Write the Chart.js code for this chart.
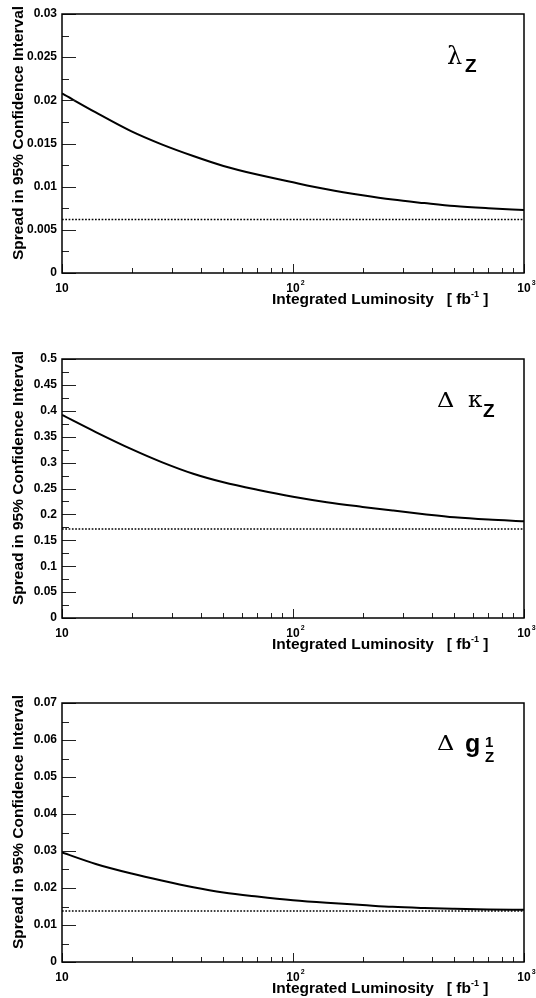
<!DOCTYPE html>
<html>
<head>
<meta charset="utf-8">
<script src="https://cdn.jsdelivr.net/npm/chart.js@4.4.1/dist/chart.umd.min.js"></script>
<style>
  body { margin: 0; background: #fff; }
  #wrap { position: relative; width: 536px; height: 998px; }
  canvas { position: absolute; left: 0; }
</style>
</head>
<body>
<div id="wrap">
  <canvas id="lambdaChart" width="536" height="309" style="top:0px"></canvas>
  <canvas id="kappaChart" width="536" height="309" style="top:345px"></canvas>
  <canvas id="g1Chart" width="536" height="309" style="top:689px"></canvas>
</div>
<script>
// Integrated luminosity points (fb^-1) where the spread was evaluated
var lumi = [10, 14, 20, 27, 37, 50, 70, 100, 140, 200, 270, 370, 500, 700, 1000];

// Spread of the 95% confidence interval for each coupling
var lambdaSpread = [0.0208, 0.0186, 0.0164, 0.0149, 0.01355, 0.0124, 0.0114, 0.0105, 0.0097, 0.0090, 0.0085, 0.0081, 0.00775, 0.0075, 0.0073];
var kappaSpread = [0.392, 0.359, 0.326, 0.301, 0.2785, 0.262, 0.2475, 0.234, 0.2235, 0.2145, 0.2075, 0.2005, 0.1945, 0.190, 0.1866];
var g1Spread = [0.0296, 0.0265, 0.0239, 0.0220, 0.0202, 0.0188, 0.0177, 0.0167, 0.0160, 0.0154, 0.0149, 0.0146, 0.0144, 0.01422, 0.0141];

// Asymptotic (infinite luminosity) limits, drawn dotted
var lambdaLimit = 0.0062;
var kappaLimit = 0.172;
var g1Limit = 0.0138;

// Axis ranges and tick steps
var lambdaAxis = [0, 0.03, 0.005];
var kappaAxis = [0, 0.5, 0.05];
var g1Axis = [0, 0.07, 0.01];

// x tick labels (decades) and minor ticks
var decadeTicks = [10, 100, 1000];
var decadeExp = ['', '2', '3'];
var minorTicks = [20, 30, 40, 50, 60, 70, 80, 90, 200, 300, 400, 500, 600, 700, 800, 900];

var latinBold = '"Liberation Sans", Arial, Helvetica, sans-serif';
var greekFont = '"DejaVu Serif", "Liberation Serif", serif';
var boldFont = 'bold 12px ' + latinBold;
var titleFont = 'bold 15.5px ' + latinBold;

function points(ys) {
  return lumi.map(function(x, i) { return { x: x, y: ys[i] }; });
}

// draws the frame, inward ticks, titles and the coupling symbol
var rootFrame = {
  id: 'rootFrame',
  afterDraw: function(chart, args, opts) {
    var ctx = chart.ctx;
    var a = chart.chartArea;
    var xs = chart.scales.x;
    var ys = chart.scales.y;
    ctx.save();

    // y ticks pointing into the plot
    ctx.strokeStyle = '#222';
    ctx.lineWidth = 1;
    var step = opts.step / 2;
    for (var i = 0; i * step <= opts.max + 1e-9; i++) {
      var py = Math.round(ys.getPixelForValue(i * step)) + 0.5;
      var len = (i % 2 === 0) ? 14 : 7;
      ctx.beginPath();
      ctx.moveTo(a.left, py);
      ctx.lineTo(a.left + len, py);
      ctx.stroke();
    }

    // x ticks pointing up
    minorTicks.forEach(function(v) {
      var px = Math.round(xs.getPixelForValue(v)) + 0.5;
      ctx.beginPath();
      ctx.moveTo(px, a.bottom);
      ctx.lineTo(px, a.bottom - 5);
      ctx.stroke();
    });
    decadeTicks.forEach(function(v) {
      var px = Math.round(xs.getPixelForValue(v)) + 0.5;
      ctx.beginPath();
      ctx.moveTo(px, a.bottom);
      ctx.lineTo(px, a.bottom - 9);
      ctx.stroke();
    });

    // frame
    ctx.strokeStyle = '#000';
    ctx.lineWidth = 1.5;
    ctx.strokeRect(a.left, a.top, a.right - a.left, a.bottom - a.top);

    // x labels: 10, 10^2, 10^3
    ctx.fillStyle = '#000';
    ctx.textBaseline = 'alphabetic';
    decadeTicks.forEach(function(v, i) {
      var px = xs.getPixelForValue(v);
      ctx.font = boldFont;
      ctx.textAlign = 'center';
      ctx.fillText('10', px, a.bottom + 19);
      if (decadeExp[i]) {
        var w = ctx.measureText('10').width;
        ctx.font = 'bold 7px ' + latinBold;
        ctx.textAlign = 'left';
        ctx.fillText(decadeExp[i], px + w / 2 + 1, a.bottom + 12);
      }
    });

    // x title
    ctx.font = titleFont;
    ctx.textAlign = 'left';
    var tx = 272;
    var ty = a.bottom + 31;
    var s1 = 'Integrated Luminosity   [ fb';
    ctx.fillText(s1, tx, ty);
    tx += ctx.measureText(s1).width;
    ctx.font = 'bold 9px ' + latinBold;
    ctx.fillText('-1', tx, ty - 7);
    tx += ctx.measureText('-1').width;
    ctx.font = titleFont;
    ctx.fillText(' ]', tx, ty);

    // y title
    ctx.save();
    ctx.translate(23, 260);
    ctx.rotate(-Math.PI / 2);
    ctx.font = titleFont;
    ctx.textAlign = 'left';
    ctx.fillText('Spread in 95% Confidence Interval', 0, 0);
    ctx.restore();

    // coupling symbol
    opts.symbol(ctx);
    ctx.restore();
  }
};

// wide upright delta like the Symbol font one
function drawDelta(ctx, x, y) {
  ctx.save();
  ctx.translate(x, y);
  ctx.scale(1.2, 1);
  ctx.font = '20px ' + greekFont;
  ctx.textAlign = 'left';
  ctx.fillText('\u0394', 0, 0);
  ctx.restore();
}

function drawLambda(ctx) {
  ctx.font = '24px ' + greekFont;
  ctx.textAlign = 'left';
  ctx.fillText('\u03bb', 447, 64);
  ctx.font = 'bold 19px ' + latinBold;
  ctx.fillText('Z', 465, 72);
}

function drawKappa(ctx) {
  drawDelta(ctx, 437, 62);
  ctx.font = '23px ' + greekFont;
  ctx.textAlign = 'left';
  ctx.fillText('\u03ba', 468, 62);
  ctx.font = 'bold 19px ' + latinBold;
  ctx.fillText('Z', 483, 72);
}

function drawG1(ctx) {
  drawDelta(ctx, 437, 61);
  ctx.font = 'bold 25px ' + latinBold;
  ctx.textAlign = 'left';
  ctx.fillText('g', 465, 63);
  ctx.font = 'bold 15px ' + latinBold;
  ctx.fillText('1', 485, 58);
  ctx.fillText('Z', 485, 73);
}

function makeChart(id, spread, limit, axis, symbol) {
  var ctx = document.getElementById(id).getContext('2d');
  return new Chart(ctx, {
    type: 'line',
    data: {
      datasets: [{
        data: points(spread),           // the spread versus luminosity
        borderColor: '#000',
        borderWidth: 2,
        pointRadius: 0,
        cubicInterpolationMode: 'monotone'
      }, {
        data: [{ x: lumi[0], y: limit }, { x: lumi[lumi.length - 1], y: limit }], // asymptote
        borderColor: '#000',
        borderWidth: 1.5,
        borderDash: [1.7, 1.6],
        pointRadius: 0
      }]
    },
    options: {
      responsive: false,
      animation: false,
      layout: { padding: { top: 14, right: 12, left: 0, bottom: 0 } },
      plugins: {
        legend: { display: false },
        tooltip: { enabled: false },
        rootFrame: { step: axis[2], max: axis[1], symbol: symbol }
      },
      scales: {
        x: {
          type: 'logarithmic',
          min: 10,
          max: 1000,
          grid: { display: false },
          border: { display: false },
          ticks: { display: false },
          afterFit: function(scale) { scale.height = 36; }
        },
        y: {
          min: axis[0],
          max: axis[1],
          grid: { display: false, drawTicks: false },
          border: { display: false },
          ticks: {
            stepSize: axis[2],
            padding: 5,
            color: '#000',
            font: { family: latinBold, weight: 'bold', size: 12 },
            callback: function(v) { return String(parseFloat(v.toFixed(4))); }
          },
          afterFit: function(scale) { scale.width = 62; }
        }
      }
    },
    plugins: [rootFrame]
  });
}

makeChart('lambdaChart', lambdaSpread, lambdaLimit, lambdaAxis, drawLambda);
makeChart('kappaChart', kappaSpread, kappaLimit, kappaAxis, drawKappa);
makeChart('g1Chart', g1Spread, g1Limit, g1Axis, drawG1);
</script>
</body>
</html>
